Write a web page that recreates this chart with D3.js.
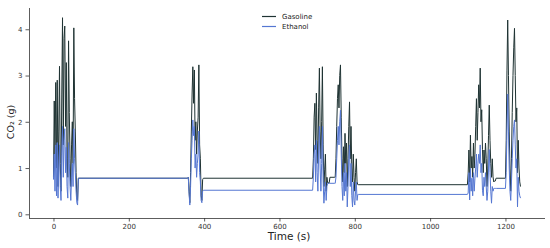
<!DOCTYPE html>
<html><head><meta charset="utf-8">
<script src="https://cdn.jsdelivr.net/npm/d3@7"></script>
<style>html,body{margin:0;padding:0;background:#fff;}svg{display:block;}</style>
</head><body><svg id="c" width="550" height="248"></svg>
<script>
// ---- data ----
const seriesNames = ["Gasoline", "Ethanol"];
const xTicks = [0, 200, 400, 600, 800, 1000, 1200];
const yTicks = [0, 1, 2, 3, 4];

const time1 = [0,2,4,6,8,10,12,14,16,18, 20,22,24,26,28,30,32,34,36,38, 40,42,44,46,48,50,52,54,56,58, 60,62,64,66, 356];
const gas1  = [0.8,2.45,1.3,2.85,1.0,2.9,0.6,1.8,3.2,1.1, 0.5,2.6,4.25,1.5,3.8,4.07,1.9,3.28,1.2,0.8, 3.75,2.2,1.2,0.6,1.5,2.0,1.1,4.03,2.5,1.8, 0.9,0.35,0.3,0.78, 0.78];
const eth1  = [0.75,1.3,0.5,1.5,0.4,1.55,0.35,1.0,1.5,0.6, 0.3,1.3,1.9,0.8,1.6,1.85,0.9,1.45,0.6,0.35, 1.55,1.1,0.6,0.3,0.8,1.1,0.6,1.85,1.2,0.9, 0.5,0.25,0.2,0.78, 0.78];

const time2 = [358,360,362,364,366,368,370,372,374,376, 378,380,382,384,386,388,390,392,394,396, 398,688];
const gas2  = [0.8,0.5,0.25,0.9,1.8,2.6,3.19,2.4,3.12,1.6, 2.0,1.3,1.8,2.1,3.23,1.5,1.2,0.4,0.3,0.75, 0.78,0.78];
const eth2  = [0.8,0.45,0.2,0.6,1.2,1.6,2.04,1.7,1.9,1.0, 1.3,0.8,1.1,1.3,1.8,0.9,0.7,0.3,0.25,0.5, 0.52,0.52];

const time3 = [690,692,694,696,698,700,702,704,706,708, 710,712,714,716,718,720,722,724,726,728, 732,734,746,748,750,752,754,756,758,760, 762,764,766,768,770,772,774,776,778,780, 782,784,786,788,790,792,794,796,798,800, 802,804,806,808,810,1099];
const gas3  = [1.2,2.1,2.4,1.4,2.62,1.6,1.1,2.3,3.16,1.8, 1.2,2.0,3.19,1.5,0.6,0.96,1.3,0.5,0.8,0.68, 0.68,0.8,0.8,0.8,1.2,1.9,2.5,2.8,2.3,3.0, 3.23,2.1,1.2,0.7,1.46,0.9,1.75,1.1,1.54,0.6, 1.2,1.9,2.43,1.2,1.9,1.0,0.7,1.3,0.8,0.5, 0.9,1.2,0.7,0.64,0.64,0.64];
const eth3  = [0.8,1.3,1.5,0.7,1.6,0.9,0.5,1.3,1.9,1.0, 0.5,1.1,1.9,0.7,0.24,0.5,0.7,0.3,0.6,0.67, 0.67,0.67,0.67,0.67,0.8,1.2,1.6,1.9,1.5,2.0, 2.25,1.3,0.6,0.3,0.9,0.4,1.1,0.5,0.9,0.16, 0.6,1.2,1.5,0.6,1.1,0.4,0.16,0.7,0.3,0.2, 0.5,0.7,0.3,0.43,0.43,0.43];

const time4 = [1101,1103,1105,1107,1109,1111,1113,1115,1117,1119, 1121,1123,1125,1127,1129,1131,1133,1135,1137,1139, 1141,1143,1145,1147,1149,1151,1153,1155,1157,1159, 1161,1163,1165,1167,1169,1171,1173,1175,1177,1200, 1202,1204,1206,1208,1210,1212,1214,1216,1218,1220, 1222,1224,1226,1228,1230,1232,1234,1236,1238,1240];
const gas4  = [0.89,1.39,0.7,1.71,1.0,1.25,0.8,1.54,1.0,1.3, 1.9,2.5,1.6,2.2,2.8,2.3,3.16,2.0,2.26,1.4, 0.9,1.39,1.1,1.54,1.2,0.6,1.0,1.7,2.36,1.6, 1.1,0.8,1.2,0.81,0.7,0.72,0.72,0.78,0.78,0.78, 1.6,3.1,4.2,3.0,1.8,1.0,0.5,1.2,2.2,3.0, 3.6,4.02,3.0,2.0,2.3,0.9,1.6,1.0,0.7,0.6];
const eth4  = [0.46,0.9,0.31,1.0,0.5,0.78,0.4,0.9,0.5,0.78, 1.0,1.3,0.8,1.1,1.3,1.1,1.5,0.9,1.1,0.52, 0.4,0.8,0.6,0.9,0.6,0.3,0.5,1.0,1.4,0.9, 0.5,0.24,0.6,0.5,0.56,0.56,0.56,0.56,0.56,0.56, 0.9,1.8,2.6,1.8,1.0,0.5,0.3,0.7,1.2,1.6, 1.9,2.04,1.5,1.0,1.2,0.16,0.8,0.5,0.4,0.35];

// ---- build ----
const times = [].concat(time1, time2, time3, time4);
const gasoline = [].concat(gas1, gas2, gas3, gas4);
const ethanol = [].concat(eth1, eth2, eth3, eth4);
if (times.length !== gasoline.length || times.length !== ethanol.length)
  console.error("length mismatch", times.length, gasoline.length, ethanol.length);

const colors = {Gasoline: "#1f3333", Ethanol: "#5577d2"};
const svg = d3.select("#c");
const x = d3.scaleLinear().domain([-65, 1305]).range([29, 545]);
const y = d3.scaleLinear().domain([-0.08, 4.46]).range([218, 8]);

const font = "DejaVu Sans, sans-serif";
// axes
const xAxis = svg.append("g").attr("transform", "translate(0,218)")
  .call(d3.axisBottom(x).tickValues(xTicks).tickSize(3.5).tickPadding(3).tickFormat(d3.format("d")));
const yAxis = svg.append("g").attr("transform", "translate(29,0)")
  .call(d3.axisLeft(y).tickValues(yTicks).tickSize(3.5).tickPadding(3).tickFormat(d3.format("d")));
[xAxis, yAxis].forEach(a => {
  a.select(".domain").attr("stroke", "#333").attr("stroke-width", 0.8);
  a.selectAll(".tick line").attr("stroke", "#333").attr("stroke-width", 0.8);
  a.selectAll(".tick text").attr("fill", "#333").style("font-family", font).style("font-size", "7px");
});
xAxis.select(".domain").attr("d", "M29,0.5H545");
yAxis.select(".domain").attr("d", "M0.5,218V8");

// lines
const pts = (vals) => times.map((t, i) => [t, vals[i]]);
const line = d3.line().x(d => x(d[0])).y(d => y(d[1]));
svg.append("path").datum(pts(gasoline)).attr("d", line)
  .attr("fill", "none").attr("stroke", colors.Gasoline).attr("stroke-width", 1).attr("stroke-linejoin", "round");
svg.append("path").datum(pts(ethanol)).attr("d", line)
  .attr("fill", "none").attr("stroke", colors.Ethanol).attr("stroke-width", 1).attr("stroke-linejoin", "round");

// labels
svg.append("text").attr("x", 289).attr("y", 240).attr("text-anchor", "middle")
  .style("font-family", font).style("font-size", "10.5px").attr("fill", "#222").text("Time (s)");
svg.append("text").attr("transform", "translate(14,122) rotate(-90)").attr("text-anchor", "middle")
  .style("font-family", font).style("font-size", "9.5px").attr("fill", "#222").text("CO₂ (g)");

// legend
const lg = svg.append("g");
seriesNames.forEach((n, i) => {
  const yy = 16.5 + i * 10;
  lg.append("line").attr("x1", 262).attr("x2", 276).attr("y1", yy).attr("y2", yy)
    .attr("stroke", colors[n]).attr("stroke-width", 1.2);
  lg.append("text").attr("x", 282).attr("y", yy + 2.5)
    .style("font-family", font).style("font-size", "7px").attr("fill", "#222").text(n);
});
</script></body></html>
